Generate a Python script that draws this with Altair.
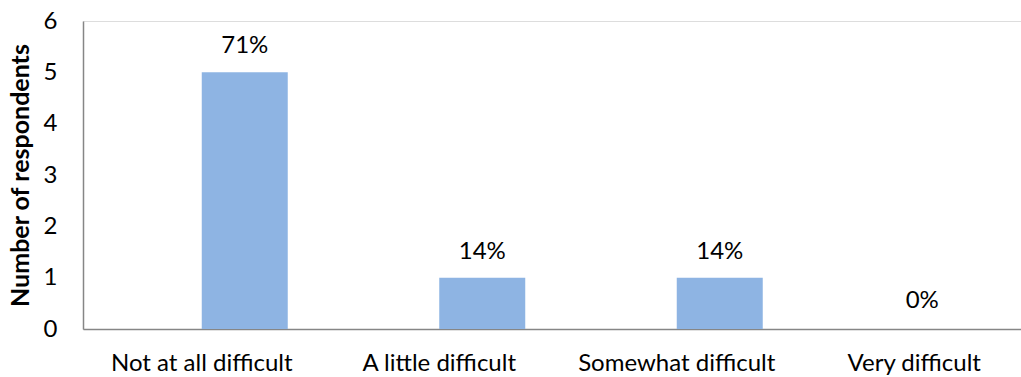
import altair as alt
import pandas as pd

# Survey answers: how difficult was it?
categories = ["Not at all difficult", "A little difficult", "Somewhat difficult", "Very difficult"]
respondents = [5, 1, 1, 0]
percent_labels = ["71%", "14%", "14%", "0%"]
series = ["Respondents", "Respondents", "Respondents", "Respondents"]

df = pd.DataFrame({
    "category": categories,
    "respondents": respondents,
    "pct": percent_labels,
    "series": series,
})

FONT = "Lato"
FONT_SIZE = 24
BAR_COLOR = "#8EB4E3"
AXIS_COLOR = "#868686"

x_enc = alt.X(
    "category:N",
    sort=categories,
    title=None,
    scale=alt.Scale(range=[0, 950], paddingInner=0.2758, paddingOuter=0.1379),
    axis=alt.Axis(
        labelAngle=0, ticks=False, tickSize=0, grid=False,
        domainColor=AXIS_COLOR, domainWidth=1.5,
        labelFont=FONT, labelFontSize=FONT_SIZE, labelColor="#000000",
        labelPadding=22, labelOverlap=False, labelLimit=400,
    ),
)
y_enc = alt.Y(
    "respondents:Q",
    title="Number of respondents",
    scale=alt.Scale(domain=[0, 6], nice=False),
    axis=alt.Axis(
        values=[0, 1, 2, 3, 4, 5, 6], ticks=False, tickSize=0, grid=False,
        domainColor=AXIS_COLOR, domainWidth=1.5,
        labelFont=FONT, labelFontSize=FONT_SIZE, labelColor="#000000",
        labelPadding=26,
        titleFont=FONT, titleFontSize=25, titleFontWeight="bold",
        titleColor="#000000", titlePadding=10, titleLimit=400,
    ),
)
offset_enc = alt.XOffset(
    "series:N",
    scale=alt.Scale(domain=["Other", "Respondents"], paddingInner=0, paddingOuter=0),
)

base = alt.Chart(df)

bars = base.mark_bar(color=BAR_COLOR).encode(x=x_enc, y=y_enc, xOffset=offset_enc)

labels = base.transform_filter("datum.respondents > 0").mark_text(
    font=FONT, fontSize=FONT_SIZE, color="#000000", baseline="middle", dy=-26
).encode(x=x_enc, y=y_enc, xOffset=offset_enc, text="pct:N")

zero_labels = base.transform_filter("datum.respondents == 0").mark_text(
    font=FONT, fontSize=FONT_SIZE, color="#000000", baseline="middle", dy=-28, dx=8
).encode(x=x_enc, y=y_enc, text="pct:N")

chart = (
    alt.layer(bars, labels, zero_labels)
    .properties(
        width=938,
        height=308,
        autosize=alt.AutoSizeParams(type="none"),
        padding={"left": 83, "top": 21, "right": 0, "bottom": 48},
    )
    .configure_view(stroke=None)
    .configure(background="white")
)

chart.save("out.html", embed_options={"renderer": "svg", "actions": False})
